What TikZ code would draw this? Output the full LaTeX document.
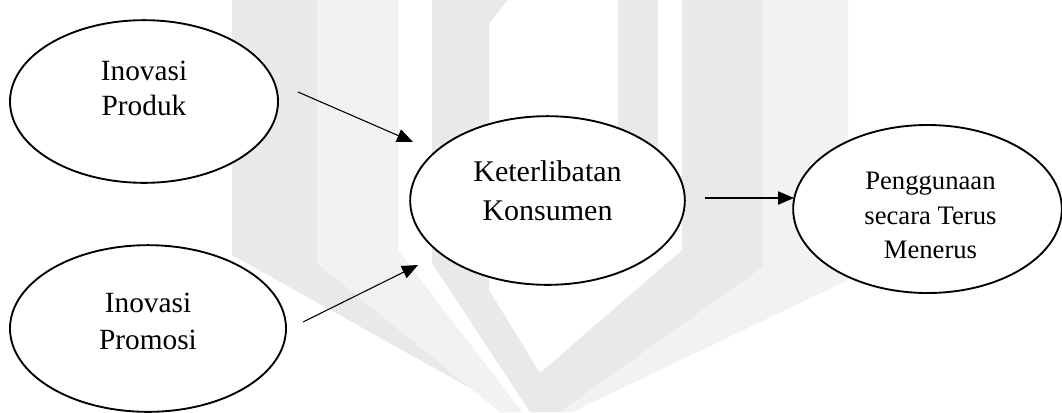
\documentclass[tikz,border=0pt]{standalone}
\usepackage{fontspec}
\setmainfont{Liberation Serif}
\usetikzlibrary{shapes.geometric,arrows.meta}
\definecolor{wmdark}{RGB}{233,233,233}
\definecolor{wmlight}{RGB}{242,242,242}
\tikzset{
  bub/.style={ellipse, draw=black, line width=1.4pt, fill=white, inner sep=0pt},
  lab/.style={align=center, inner sep=0pt, text=black},
  conn/.style={line width=0.8pt, -{Triangle[length=12pt,width=10pt]}},
  wmd/.style={fill=wmdark, draw=none},
  wml/.style={fill=wmlight, draw=none}
}
\begin{document}
\begin{tikzpicture}[x=0.75pt, y=-0.75pt]
\useasboundingbox (0,0) rectangle (1062,412);
% watermark
\fill[wmd] (232,0) -- (317,0) -- (317,263) -- (500,412) -- (513,412) -- (232,255) -- cycle;
\fill[wml] (317,0) -- (398,0) -- (398,250) -- (522,412) -- (500,412) -- (317,263) -- cycle;
\fill[wmd] (432,0) -- (508,0) -- (489,23) -- (489,290) -- (540,373) -- (545,412) -- (530,412) -- (432,263) -- cycle;
\fill[wmd] (618,0) -- (658,0) -- (658,255) -- (618,255) -- cycle;
\fill[wmd] (682,0) -- (763,0) -- (763,267) -- (560,412) -- (545,412) -- (540,373) -- (682,250) -- cycle;
\fill[wml] (763,0) -- (848,0) -- (848,280) -- (572,412) -- (560,412) -- (763,267) -- cycle;
% nodes
\node[bub, minimum width=201pt, minimum height=122pt,
  label={[lab, yshift=10pt, font=\fontsize{22}{26.5}\selectfont]center:Inovasi\\Produk}] (prod) at (144,101.5) {};
\node[bub, minimum width=207pt, minimum height=125pt,
  label={[lab, yshift=5.3pt, font=\fontsize{22}{27.5}\selectfont]center:Inovasi\\Promosi}] (prom) at (148,328.5) {};
\node[bub, minimum width=206pt, minimum height=126.5pt,
  label={[lab, yshift=7.5pt, font=\fontsize{22.5}{29}\selectfont]center:Keterlibatan\\Konsumen}] (ket) at (547.5,200.5) {};
\node[bub, minimum width=201.5pt, minimum height=126pt,
  label={[lab, yshift=-4.9pt, xshift=2.2pt, font=\fontsize{20}{26}\selectfont]center:Penggunaan\\secara Terus\\Menerus}] (peng) at (927.5,209) {};
% connectors
\coordinate (a1s) at (298,92);
\coordinate (a1e) at (413,142);
\coordinate (a2s) at (303,322);
\coordinate (a2e) at (418,265);
\coordinate (a3s) at (705,198);
\coordinate (a3e) at (794,198);
\draw[conn] (a1s) -- (a1e);
\draw[conn] (a2s) -- (a2e);
\draw[conn] (a3s) -- (a3e);
\end{tikzpicture}
\end{document}
